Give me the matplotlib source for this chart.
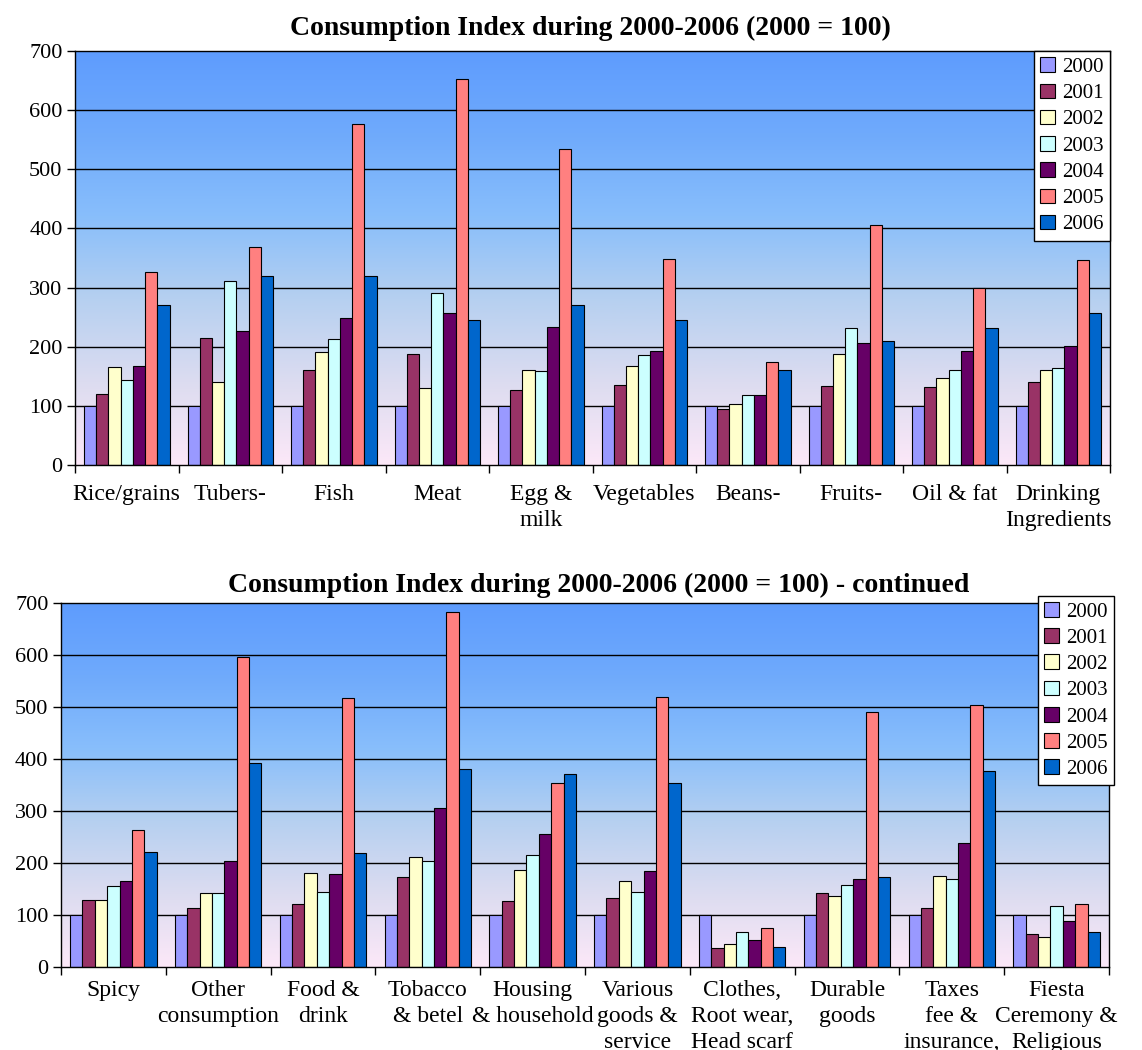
import numpy as np
import matplotlib
matplotlib.use("Agg")
import matplotlib.pyplot as plt
from matplotlib.colors import LinearSegmentedColormap
from matplotlib.transforms import offset_copy

plt.rcParams['font.family'] = ['Liberation Serif', 'DejaVu Serif']

years = ['2000', '2001', '2002', '2003', '2004', '2005', '2006']
colors = ['#9999FF', '#993366', '#FFFFCC', '#CCFFFF', '#660066', '#FF8080', '#0066CC']

# first chart: food items
cats_food = ['Rice/grains', 'Tubers-', 'Fish', 'Meat', 'Egg &\nmilk', 'Vegetables',
             'Beans-', 'Fruits-', 'Oil & fat', 'Drinking\nIngredients']
idx_2000_a = [100, 100, 100, 100, 100, 100, 100, 100, 100, 100]
idx_2001_a = [120, 215, 160, 188, 127, 136, 94, 134, 132, 141]
idx_2002_a = [165, 141, 191, 130, 161, 168, 103, 188, 148, 161]
idx_2003_a = [144, 311, 213, 291, 159, 186, 118, 231, 161, 164]
idx_2004_a = [168, 226, 249, 257, 233, 193, 118, 206, 193, 202]
idx_2005_a = [327, 368, 577, 653, 534, 348, 175, 406, 300, 346]
idx_2006_a = [271, 320, 320, 246, 271, 246, 161, 210, 231, 257]

# second chart: non-food items
cats_other = ['Spicy', 'Other\nconsumption', 'Food &\ndrink', 'Tobacco\n& betel',
              'Housing\n& household', 'Various\ngoods &\nservice',
              'Clothes,\nRoot wear,\nHead scarf', 'Durable\ngoods',
              'Taxes\nfee &\ninsurance,', 'Fiesta\nCeremony &\nReligious']
idx_2000_b = [100, 100, 100, 100, 100, 100, 100, 100, 100, 100]
idx_2001_b = [129, 114, 122, 174, 127, 132, 37, 142, 114, 63]
idx_2002_b = [129, 142, 181, 212, 186, 166, 44, 137, 176, 57]
idx_2003_b = [155, 142, 145, 204, 215, 145, 68, 158, 169, 117]
idx_2004_b = [166, 204, 178, 305, 256, 184, 52, 169, 238, 88]
idx_2005_b = [264, 597, 517, 682, 354, 519, 75, 491, 504, 122]
idx_2006_b = [222, 393, 220, 380, 372, 354, 39, 174, 377, 68]

series_a = [idx_2000_a, idx_2001_a, idx_2002_a, idx_2003_a, idx_2004_a, idx_2005_a, idx_2006_a]
series_b = [idx_2000_b, idx_2001_b, idx_2002_b, idx_2003_b, idx_2004_b, idx_2005_b, idx_2006_b]

bg = LinearSegmentedColormap.from_list(
    'bg', ['#FCE8F8', '#DCDCF0', '#B6D0F0', '#88BEFB', '#6FAAFC', '#5E9CFE'])


def draw(ax, cats, series, label_pad, legend_anchor):
    n = len(cats)
    grad = np.linspace(0, 1, 256).reshape(-1, 1)
    ax.imshow(grad, cmap=bg, origin='lower', aspect='auto',
              extent=[0, n, 0, 700], zorder=0)
    for v in range(100, 700, 100):
        ax.axhline(v, color='black', lw=1, zorder=1)

    w = 0.118
    x = np.arange(n) + 0.5
    for i, (vals, c, yr) in enumerate(zip(series, colors, years)):
        ax.bar(x + (i - 3) * w, vals, width=w, color=c, edgecolor='black',
               linewidth=0.8, label=yr, zorder=2)

    ax.set_xlim(0, n)
    ax.set_ylim(0, 700)
    ax.set_yticks(range(0, 701, 100))
    ax.set_xticks(np.arange(n + 1))
    ax.set_xticklabels([])
    ax.tick_params(axis='x', length=6, width=1)
    ax.tick_params(axis='y', length=6, width=1, labelsize=16, pad=3)
    for s in ax.spines.values():
        s.set_linewidth(1)
        s.set_color('black')

    # category names under each group
    trans = offset_copy(ax.get_xaxis_transform(), fig=ax.figure,
                        y=-label_pad, units='points')
    for xi, name in zip(x, cats):
        ax.text(xi, 0, name, transform=trans, ha='center', va='top',
                fontsize=17, linespacing=1.3, clip_on=False)

    leg = ax.legend(loc='upper right', bbox_to_anchor=legend_anchor,
                    fontsize=15, frameon=True, fancybox=False, framealpha=1,
                    edgecolor='black', handlelength=0.7, handleheight=0.7,
                    handletextpad=0.35, labelspacing=0.32, borderpad=0.3,
                    borderaxespad=0)
    leg.get_frame().set_linewidth(1)
    leg.set_zorder(5)


fig = plt.figure(figsize=(11.42, 10.5), dpi=100)

ax1 = fig.add_axes([0.0657, 0.5571, 0.9063, 0.3943])
draw(ax1, cats_food, series_a, 13.5, (1.0, 1.0))
fig.text(0.517, 0.9733, 'Consumption Index during 2000-2006 (2000 = 100)',
         ha='center', va='center', fontsize=20, fontweight='bold')

ax2 = fig.add_axes([0.0534, 0.0790, 0.9177, 0.3467])
draw(ax2, cats_other, series_b, 9.5, (1.005, 1.02))
fig.text(0.5245, 0.4429, 'Consumption Index during 2000-2006 (2000 = 100) - continued',
         ha='center', va='center', fontsize=20, fontweight='bold')

fig.savefig('out.png', dpi=100)
